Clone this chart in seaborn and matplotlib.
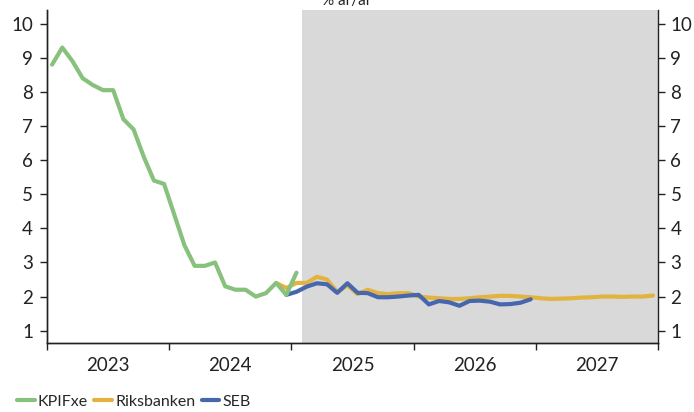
import numpy as np
import pandas as pd
import seaborn as sns
from matplotlib import pyplot as plt

# months are counted from Jan 2023 (index 0)
years = ["2023", "2024", "2025", "2026", "2027"]

kpifxe = [8.8, 9.3, 8.9, 8.4, 8.2, 8.05, 8.05, 7.2, 6.9, 6.1, 5.4, 5.3,
          4.4, 3.5, 2.9, 2.9, 3.0, 2.3, 2.2, 2.2, 2.0, 2.1, 2.4, 2.05,
          2.7]
kpifxe_start = 0

riksbanken = [2.4, 2.25,
              2.4, 2.4, 2.58, 2.5, 2.13, 2.33, 2.07, 2.2, 2.1, 2.07, 2.1, 2.1,
              2.0, 1.97, 1.95, 1.93, 1.93, 1.95, 1.98, 2.0, 2.02, 2.02, 2.0, 1.98,
              1.95, 1.93, 1.94, 1.95, 1.97, 1.98, 2.0, 2.0, 1.99, 2.0, 2.0, 2.03]
riksbanken_start = 22

seb = [2.05,
       2.14, 2.29, 2.39, 2.36, 2.11, 2.39, 2.11, 2.1, 1.98, 1.98, 2.0, 2.03,
       2.05, 1.77, 1.87, 1.83, 1.73, 1.87, 1.88, 1.85, 1.77, 1.78, 1.82, 1.92]
seb_start = 23

forecast_start = 25  # shading from Feb 2025

series_names = ["KPIFxe", "Riksbanken", "SEB"]
colors = {"KPIFxe": "#87C17D", "Riksbanken": "#E2B33E", "SEB": "#4666AE"}


def to_frame(name, values, start):
    return pd.DataFrame({
        "month": np.arange(start, start + len(values)) + 0.5,
        "value": values,
        "series": name,
    })


df = pd.concat([
    to_frame("KPIFxe", kpifxe, kpifxe_start),
    to_frame("Riksbanken", riksbanken, riksbanken_start),
    to_frame("SEB", seb, seb_start),
], ignore_index=True)

sns.set_style("ticks")
plt.rcParams["font.family"] = ["Lato", "DejaVu Sans"]

fig = plt.figure(figsize=(6.94, 4.12), dpi=100)
ax = fig.add_axes([47 / 694, 1 - 343.3 / 412, (658 - 47) / 694, (343.3 - 10) / 412])

ax.axvspan(forecast_start, 60, color="#D9D9D9", lw=0, zorder=0)

sns.lineplot(data=df, x="month", y="value", hue="series", hue_order=series_names,
             palette=colors, linewidth=3, ax=ax)

# KPIFxe on top
for line in ax.lines:
    if line.get_color().upper() == colors["KPIFxe"].upper():
        line.set_zorder(5)

ax.set_xlim(0, 60)
ax.set_ylim(0.63, 10.4)
ax.set(xlabel=None, ylabel=None)

ax.set_xticks(range(0, 61, 12))
ax.set_xticklabels([])
ax.set_xticks(np.arange(6, 60, 12), minor=True)
ax.set_xticklabels(years, minor=True)
ax.tick_params(axis="x", which="major", length=5, width=1, color="#222222")
ax.tick_params(axis="x", which="minor", length=0, pad=10, labelsize=13.5, labelcolor="#222222")

ax.set_yticks(range(1, 11))
ax.tick_params(axis="y", length=5, width=1, pad=5, labelsize=13.5, color="#222222", labelcolor="#222222")

ax2 = ax.twinx()
ax2.set_ylim(ax.get_ylim())
ax2.set_yticks(range(1, 11))
ax2.tick_params(axis="y", length=5, width=1, pad=4, labelsize=13.5, color="#222222", labelcolor="#222222")

for a in (ax, ax2):
    a.spines["top"].set_visible(False)
    for s in ("left", "right", "bottom"):
        a.spines[s].set_color("#222222")
        a.spines[s].set_linewidth(1)
ax.spines["right"].set_visible(False)

handles, labels = ax.get_legend_handles_labels()
ax.get_legend().remove()
fig.legend(handles, labels, loc="center left", bbox_to_anchor=(17 / 694, 10.5 / 412),
           ncol=3, frameon=False, fontsize=11.5, handlelength=1.1, handletextpad=0.2,
           columnspacing=0.4, borderpad=0, borderaxespad=0)

# unit label sits at the very top edge, partly cut off as in the original
fig.text(322 / 694, 1 - 5 / 412, "% år/år", ha="left", va="baseline",
         fontsize=11, color="#222222")

fig.savefig("out.png", dpi=100)
